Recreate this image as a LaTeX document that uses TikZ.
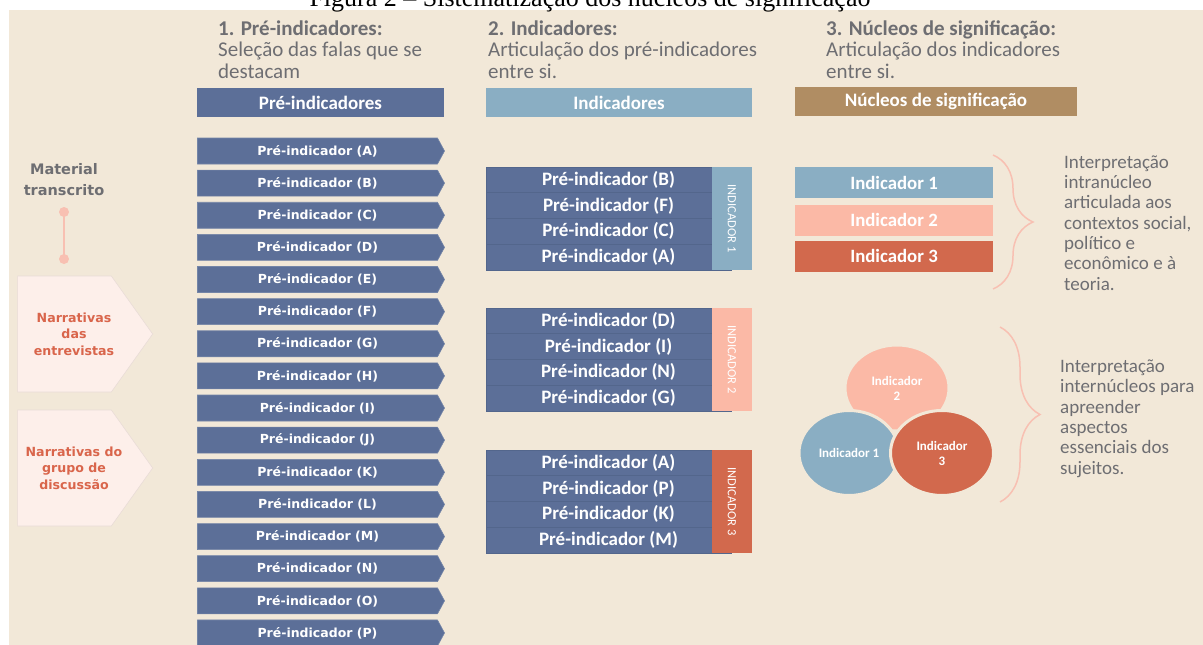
\documentclass[tikz,border=0pt]{standalone}
\usepackage{fontspec}
\setmainfont{Carlito}
\newfontfamily\verd{DejaVu Sans}
\newfontfamily\capserif{Liberation Serif}
\usetikzlibrary{shapes.symbols,shapes.geometric,decorations.pathreplacing}
\definecolor{bg}{HTML}{F2E8D8}
\definecolor{txtgray}{HTML}{6E6E72}
\definecolor{preblue}{HTML}{5C6F98}
\definecolor{rowline}{HTML}{53668C}
\definecolor{ind1}{HTML}{8AAEC3}
\definecolor{ind2}{HTML}{FBB9A6}
\definecolor{ind3}{HTML}{D2694D}
\definecolor{tan}{HTML}{B08D63}
\definecolor{pentfill}{HTML}{FDEFEA}
\definecolor{coral}{HTML}{D9654B}
\definecolor{pinkline}{HTML}{F8C0B2}
\begin{document}
\begin{tikzpicture}[x=1pt,y=-1pt,
 hdr/.style={anchor=base west,inner sep=0,align=left,text=txtgray,font=\fontsize{21}{21.5}\selectfont},
 bar/.style={minimum height=29,inner sep=0,text=white,font=\bfseries\fontsize{19}{20}\selectfont},
 prearrow/.style={shape=signal,signal to=east,signal pointer angle=123,fill=preblue,draw=preblue!85!white,line width=0.6,minimum width=247,minimum height=26,inner sep=0,text=white,font=\verd\bfseries\fontsize{12.5}{14}\selectfont},
 pent/.style={shape=signal,signal to=east,signal pointer angle=109,fill=pentfill,draw=pentfill!92!black,line width=0.6,minimum width=135,minimum height=116,inner sep=0},
 narr/.style={align=center,inner sep=0,text=coral,font=\verd\bfseries\fontsize{12.6}{16.3}\selectfont},
 prerow/.style={fill=preblue,draw=rowline,line width=0.6,minimum width=245,minimum height=25.75,inner sep=0,text=white,font=\bfseries\fontsize{19}{20}\selectfont},
 indbar/.style={rotate=-90,minimum width=103,minimum height=40,inner sep=0,text=white,font=\fontsize{12.5}{14}\selectfont},
 nbar/.style={minimum width=198,minimum height=31,inner sep=0,text=white,font=\bfseries\fontsize{18.8}{20}\selectfont},
 circ/.style={ellipse,draw=bg,line width=3,inner sep=0,align=center,text=white,font=\bfseries\fontsize{13}{15}\selectfont},
 bracepath/.style={draw=pinkline,line width=1.5,decorate,decoration={brace,amplitude=40}},
 side/.style={anchor=base west,inner sep=0,align=left,text=txtgray,font=\fontsize{19}{20.3}\selectfont}]
\useasboundingbox (0,0) rectangle (1203,645);
\fill[bg] (9,10) rectangle (1203,645);
\node[anchor=base,inner sep=0,font=\capserif\fontsize{26}{28}\selectfont] (caption) at (590,6) {Figura 2 – Sistematização dos núcleos de significação};

% column headers (base = last line)
\node[hdr] (h1) at (218,78) {\textbf{1. Pré-indicadores:}\\Seleção das falas que se\\destacam};
\node[hdr] (h2) at (488,78) {\textbf{2. Indicadores:}\\Articulação dos pré-indicadores\\entre si.};
\node[hdr] (h3) at (826,78) {\textbf{3. Núcleos de significação:}\\Articulação dos indicadores\\entre si.};
\node[bar,fill=preblue,minimum width=247] (bar1) at (320.5,102.5) {Pré-indicadores};
\node[bar,fill=ind1,minimum width=266] (bar2) at (619,102.5) {Indicadores};
\node[bar,fill=tan,minimum width=282] (bar3) at (936,101) {Núcleos de significação};

% source material
\node[inner sep=0,align=center,text=txtgray,font=\verd\bfseries\fontsize{14.5}{21}\selectfont,anchor=base] (mat) at (64,195) {Material\\transcrito};
\coordinate (dot1) at (64,212);
\coordinate (dot2) at (64,259);
\draw[pinkline,line width=2] (dot1) -- (dot2);
\fill[pinkline] (dot1) circle (5) (dot2) circle (5);
\node[pent] (narr1) at (64.5,334) {};
\node[narr,anchor=base] at (74,355) {Narrativas\\das\\entrevistas};
\node[pent] (narr2) at (64.5,468) {};
\node[narr,anchor=base] at (74,489) {Narrativas do\\grupo de\\discussão};

% pre-indicators
\foreach \l [count=\i from 0] in {A,B,C,D,E,F,G,H,I,J,K,L,M,N,O,P}
 \node[prearrow] (pre\l) at (317.5,151+32.13*\i) {Pré-indicador (\l)};

% indicators (rows run under the label bar)
\foreach \g/\yy/\lst in {1/167/{B,F,C,A},2/308/{D,I,N,G},3/450/{A,P,K,M}} {
 \foreach \l [count=\r] in \lst
  \node[prerow] (g\g r\r) at (608.5,\yy+25.75*\r-12.875) {Pré-indicador (\l)};
 \node[indbar,fill=ind\g] (ind\g) at (732,\yy+51.5) {INDICADOR \g};
}

% nuclei
\foreach \i/\yc in {1/182.5,2/220,3/256}
 \node[nbar,fill=ind\i] (n\i) at (894,\yc) {Indicador \i};
\node[circ,fill=ind2,minimum width=104,minimum height=86] (c2) at (897,388) {Indicador\\2};
\node[circ,fill=ind1,minimum width=100,minimum height=85] (c1) at (849,453) {Indicador 1};
\node[circ,fill=ind3,minimum width=103,minimum height=85] (c3) at (942,453) {Indicador\\3};

% braces and notes
\coordinate (b1t) at (993,155);
\coordinate (b1b) at (993,289);
\coordinate (b2t) at (1000,327);
\coordinate (b2b) at (1000,502);
\draw[bracepath] (b1t) -- (b1b);
\draw[bracepath] (b2t) -- (b2b);
\node[side] (note1) at (1064,290) {Interpretação\\intranúcleo\\articulada aos\\contextos social,\\político e\\econômico e à\\teoria.};
\node[side] (note2) at (1060,474) {Interpretação\\internúcleos para\\apreender\\aspectos\\essenciais dos\\sujeitos.};
\end{tikzpicture}
\end{document}
